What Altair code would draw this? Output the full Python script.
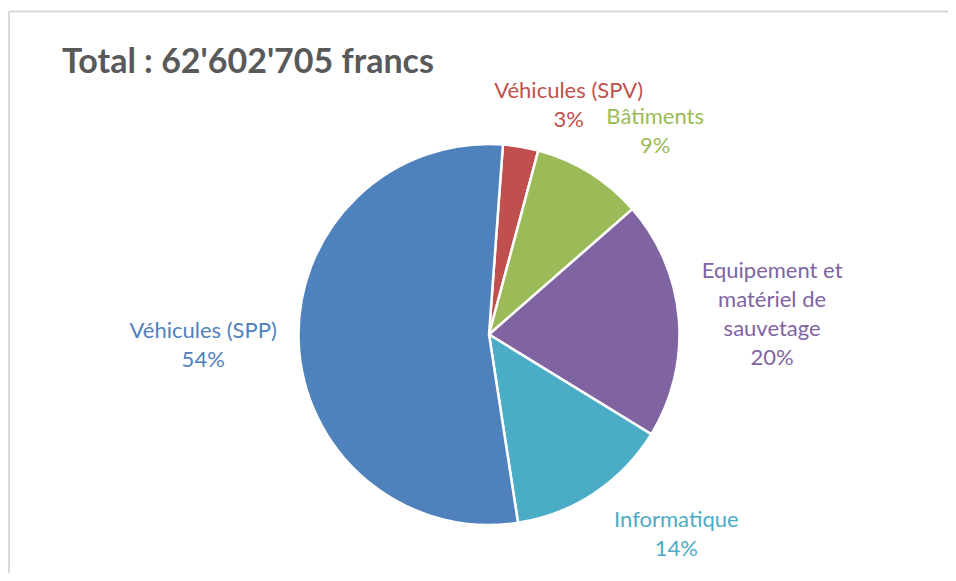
import math
import altair as alt
import pandas as pd

# ---- data ----
categories = ["Véhicules (SPV)", "Bâtiments", "Equipement et\nmatériel de\nsauvetage",
              "Informatique", "Véhicules (SPP)"]
values = [3.0, 9.4, 20.2, 13.8, 53.6]
colors = ["#C0504D", "#9BBB59", "#8064A2", "#4BACC6", "#4F81BD"]
title_text = "Total : 62'602'705 francs"

df = pd.DataFrame({"cat": categories, "value": values, "idx": list(range(len(values)))})

start = math.radians(4.2)
theta_scale = alt.Scale(domain=[0, 100], range=[start, start + 2 * math.pi])
color_scale = alt.Scale(domain=categories, range=colors)

CX, CY, R = 481, 326.5, 190.5
FONT = "Lato"

base = (
    alt.Chart(df)
    .transform_window(cum="sum(value)", sort=[alt.SortField("idx")])
    .transform_joinaggregate(total="sum(value)")
    .transform_calculate(
        mid="datum.cum - datum.value / 2",
        label="datum.cat + '\\n' + format(datum.value / datum.total, '.0%')",
    )
)

pie = alt.Chart(df).mark_arc(radius=R, stroke="white", strokeWidth=2.5).encode(
    theta=alt.Theta("value:Q", scale=theta_scale, stack=True),
    order=alt.Order("idx:Q"),
    color=alt.Color("cat:N", scale=color_scale, legend=None),
    x=alt.value(CX),
    y=alt.value(CY),
)

# per-label offsets (style)
offsets = {
    categories[0]: (38, 3),
    categories[1]: (34, -5),
    categories[2]: (34, -43),
    categories[3]: (49, -23),
    categories[4]: (-36, -13),
}

label_layers = []
for cat in categories:
    dx, dy = offsets[cat]
    lyr = (
        base.transform_filter(alt.datum.cat == cat)
        .mark_text(radius=250, align="center", baseline="middle", font=FONT,
                   fontSize=22, lineHeight=29, lineBreak="\n", dx=dx, dy=dy)
        .encode(
            theta=alt.Theta("mid:Q", scale=theta_scale, stack=None),
            text="label:N",
            color=alt.Color("cat:N", scale=color_scale, legend=None),
            x=alt.value(CX),
            y=alt.value(CY),
        )
    )
    label_layers.append(lyr)

title = alt.Chart(pd.DataFrame({"t": [title_text]})).mark_text(
    align="left", baseline="alphabetic", font=FONT, fontSize=34, fontWeight="bold",
    color="#595959"
).encode(text="t:N", x=alt.value(54), y=alt.value(65))

border_top = alt.Chart(pd.DataFrame({"a": [0]})).mark_rule(color="#d9d9d9", strokeWidth=2).encode(
    x=alt.value(1), x2=alt.value(940), y=alt.value(3.5)
)
border_left = alt.Chart(pd.DataFrame({"a": [0]})).mark_rule(color="#d9d9d9", strokeWidth=2).encode(
    x=alt.value(1), y=alt.value(3.5), y2=alt.value(565)
)

chart = (
    alt.layer(border_top, border_left, pie, *label_layers, title)
    .properties(width=940, height=565, padding=0,
                autosize=alt.AutoSizeParams(type="none"))
    .configure_view(stroke=None)
)

chart.save("out.html", embed_options={"renderer": "svg", "actions": False})
